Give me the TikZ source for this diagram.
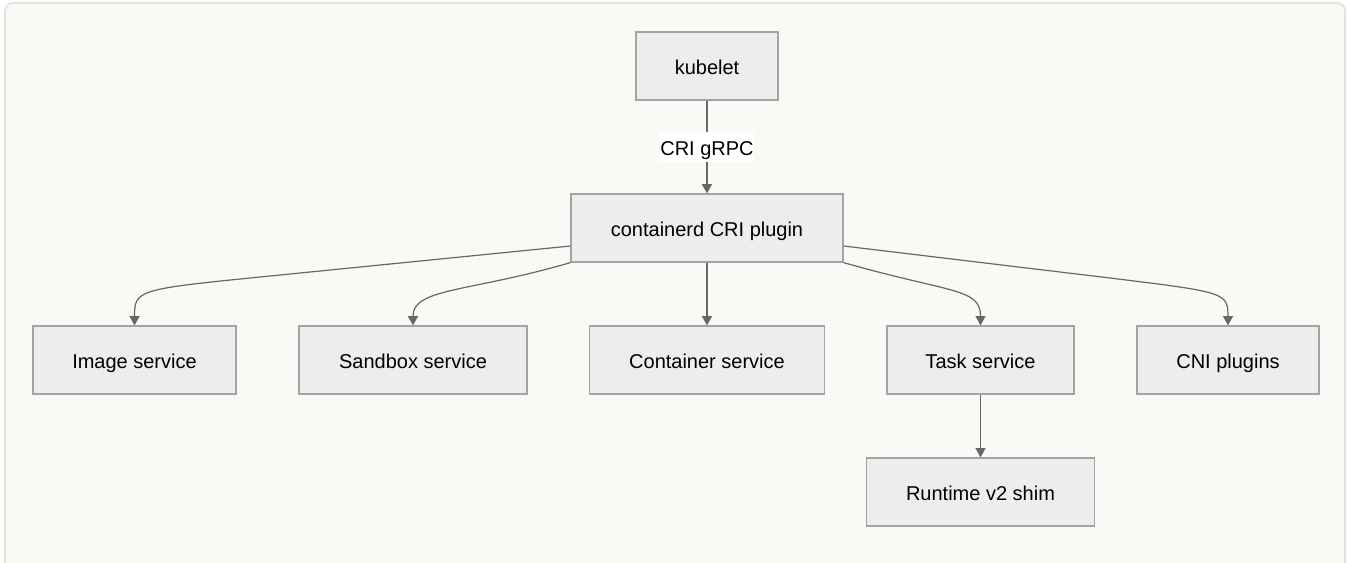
\documentclass[tikz,border=0pt]{standalone}
\usepackage{fontspec}
\setmainfont{Liberation Sans}
\usetikzlibrary{arrows.meta,calc}
\definecolor{pagebg}{HTML}{FAF9F5}
\definecolor{frameline}{HTML}{E2E1DC}
\definecolor{boxfill}{HTML}{EDEDED}
\definecolor{boxline}{HTML}{A3A3A3}
\definecolor{edgecol}{HTML}{676767}
\begin{document}
\begin{tikzpicture}[x=0.75pt,y=-0.75pt,
  box/.style={draw=boxline, fill=boxfill, line width=0.9pt, minimum height=51pt, inner sep=0pt, text height=14pt, text depth=2pt, font=\fontsize{15pt}{18pt}\selectfont, text=black},
  edge/.style={draw=edgecol, line width=0.9pt, -{Triangle[length=7pt,width=7.5pt]}},
  lbl/.style={fill=white, inner xsep=0pt, inner ysep=3.5pt, text height=14pt, text depth=2pt, font=\fontsize{15pt}{18pt}\selectfont, text=black}]
\useasboundingbox (0,0) rectangle (1350,562);
\fill[white] (0,0) rectangle (1350,562);
\begin{scope}
\clip (0,0) rectangle (1350,562);
\draw[frameline, fill=pagebg, line width=1.2pt, rounded corners=6pt] (5,3) rectangle (1345,620);
\end{scope}

\node[box, minimum width=106.5pt] (kubelet) at (707,66) {kubelet};
\node[box, minimum width=204pt] (cri) at (707,228) {containerd CRI plugin};
\node[box, minimum width=152.25pt] (image) at (134.5,360) {Image service};
\node[box, minimum width=171pt] (sandbox) at (413,360) {Sandbox service};
\node[box, minimum width=176.25pt] (container) at (707,360) {Container service};
\node[box, minimum width=140.25pt] (task) at (980.5,360) {Task service};
\node[box, minimum width=136.5pt] (cni) at (1228,360) {CNI plugins};
\node[box, minimum width=171pt] (runtime) at (980.5,492) {Runtime v2 shim};

\draw[edge] (kubelet) -- node[lbl] {CRI gRPC} (cri);
\draw[edge] ([yshift=-13.5pt]cri.west) -- (270,276) .. controls (134.5,289.5) .. (134.5,318) -- (image.north);
\draw[edge] (cri.south west) .. controls (470,292) and (413,288) .. (413,316) -- (sandbox.north);
\draw[edge] (cri) -- (container);
\draw[edge] (cri.south east) .. controls (950,293) and (980.5,288) .. (980.5,316) -- (task.north);
\draw[edge] ([yshift=-13.5pt]cri.east) -- (1110,278) .. controls (1228,292.5) .. (1228,318) -- (cni.north);
\draw[edge] (task) -- (runtime);
\end{tikzpicture}
\end{document}
